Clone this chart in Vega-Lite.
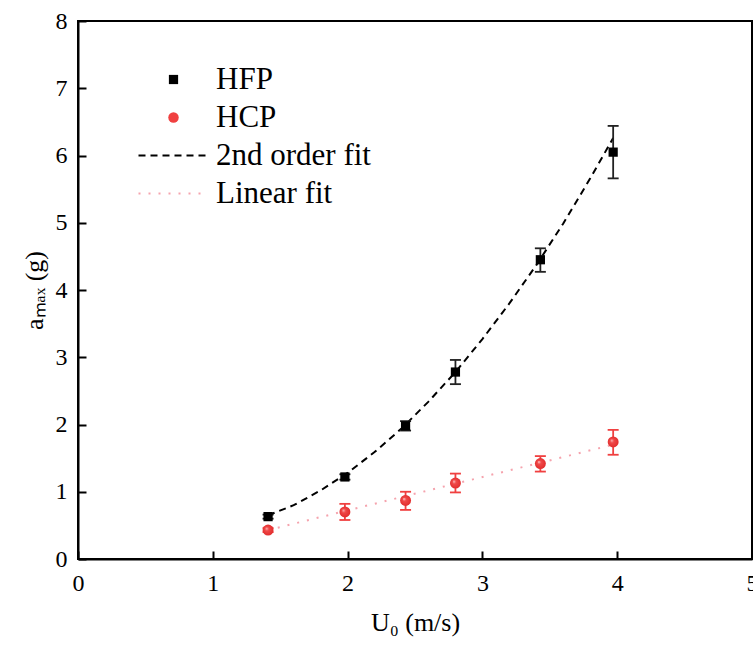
{
  "$schema": "https://vega.github.io/schema/vega-lite/v6.json",
  "width": 674,
  "height": 538,
  "autosize": {"type": "none"},
  "padding": {"left": 78, "top": 21, "right": 1, "bottom": 94},
  "background": "white",
  "config": {
    "font": "Liberation Serif",
    "view": {"stroke": "black", "strokeWidth": 2},
    "axis": {
      "grid": false,
      "labelFont": "Liberation Serif",
      "titleFont": "Liberation Serif",
      "labelFontSize": 24,
      "titleFontSize": 26,
      "titleFontWeight": "normal",
      "labelColor": "black",
      "titleColor": "black",
      "domainColor": "black",
      "domainWidth": 2,
      "tickColor": "black",
      "tickWidth": 2,
      "tickSize": -8
    },
    "legend": {
      "labelFont": "Liberation Serif",
      "labelFontSize": 31,
      "labelColor": "black"
    }
  },
  "datasets": {
    "pts": [
      {"series": "HFP", "u": 1.41, "a": 0.63, "lo": 0.60, "hi": 0.66},
      {"series": "HFP", "u": 1.98, "a": 1.22, "lo": 1.18, "hi": 1.26},
      {"series": "HFP", "u": 2.43, "a": 1.98, "lo": 1.91, "hi": 2.05},
      {"series": "HFP", "u": 2.80, "a": 2.78, "lo": 2.60, "hi": 2.96},
      {"series": "HFP", "u": 3.43, "a": 4.45, "lo": 4.27, "hi": 4.62},
      {"series": "HFP", "u": 3.97, "a": 6.05, "lo": 5.66, "hi": 6.44},
      {"series": "HCP", "u": 1.41, "a": 0.43, "lo": 0.40, "hi": 0.46},
      {"series": "HCP", "u": 1.98, "a": 0.70, "lo": 0.58, "hi": 0.82},
      {"series": "HCP", "u": 2.43, "a": 0.87, "lo": 0.73, "hi": 1.00},
      {"series": "HCP", "u": 2.80, "a": 1.13, "lo": 0.99, "hi": 1.27},
      {"series": "HCP", "u": 3.43, "a": 1.42, "lo": 1.30, "hi": 1.53},
      {"series": "HCP", "u": 3.97, "a": 1.74, "lo": 1.55, "hi": 1.92}
    ],
    "fits": [
      {"series": "2nd order fit", "u": 1.41, "a": 0.65},
      {"series": "2nd order fit", "u": 1.6, "a": 0.80},
      {"series": "2nd order fit", "u": 1.8, "a": 1.02},
      {"series": "2nd order fit", "u": 2.0, "a": 1.28},
      {"series": "2nd order fit", "u": 2.2, "a": 1.59},
      {"series": "2nd order fit", "u": 2.4, "a": 1.94},
      {"series": "2nd order fit", "u": 2.6, "a": 2.34},
      {"series": "2nd order fit", "u": 2.8, "a": 2.78},
      {"series": "2nd order fit", "u": 3.0, "a": 3.27},
      {"series": "2nd order fit", "u": 3.2, "a": 3.80},
      {"series": "2nd order fit", "u": 3.4, "a": 4.37},
      {"series": "2nd order fit", "u": 3.6, "a": 4.99},
      {"series": "2nd order fit", "u": 3.8, "a": 5.66},
      {"series": "2nd order fit", "u": 3.97, "a": 6.26},
      {"series": "Linear fit", "u": 1.41, "a": 0.43},
      {"series": "Linear fit", "u": 3.97, "a": 1.70}
    ]
  },
  "layer": [
    {
      "data": {"name": "fits"},
      "transform": [{"filter": "datum.series == '2nd order fit'"}],
      "mark": {"type": "line", "strokeWidth": 2, "color": "black", "strokeDash": [7, 5]},
      "encoding": {
        "x": {"field": "u", "type": "quantitative"},
        "y": {"field": "a", "type": "quantitative"}
      }
    },
    {
      "data": {"name": "fits"},
      "transform": [{"filter": "datum.series == 'Linear fit'"}],
      "mark": {"type": "line", "strokeWidth": 2, "color": "#f5a3ad", "strokeDash": [2, 8]},
      "encoding": {
        "x": {"field": "u", "type": "quantitative"},
        "y": {"field": "a", "type": "quantitative"}
      }
    },
    {
      "data": {"name": "pts"},
      "mark": {"type": "rule", "strokeWidth": 1.8},
      "encoding": {
        "x": {"field": "u", "type": "quantitative"},
        "y": {"field": "lo", "type": "quantitative"},
        "y2": {"field": "hi"},
        "color": {"condition": {"test": "datum.series == 'HFP'", "value": "#222222"}, "value": "#f04040"}
      }
    },
    {
      "data": {"name": "pts"},
      "mark": {"type": "tick", "orient": "horizontal", "size": 11, "thickness": 1.8, "opacity": 1},
      "encoding": {
        "x": {"field": "u", "type": "quantitative"},
        "y": {"field": "lo", "type": "quantitative"},
        "color": {"condition": {"test": "datum.series == 'HFP'", "value": "#222222"}, "value": "#f04040"}
      }
    },
    {
      "data": {"name": "pts"},
      "mark": {"type": "tick", "orient": "horizontal", "size": 11, "thickness": 1.8, "opacity": 1},
      "encoding": {
        "x": {"field": "u", "type": "quantitative"},
        "y": {"field": "hi", "type": "quantitative"},
        "color": {"condition": {"test": "datum.series == 'HFP'", "value": "#222222"}, "value": "#f04040"}
      }
    },
    {
      "data": {"name": "pts"},
      "transform": [{"filter": "datum.series == 'HCP'"}],
      "mark": {"type": "point", "shape": "circle", "filled": true, "opacity": 1, "size": 120,
        "fill": {"gradient": "radial", "x1": 0.35, "y1": 0.35, "r1": 0, "x2": 0.5, "y2": 0.5, "r2": 0.55,
          "stops": [{"offset": 0, "color": "#ffd0d0"}, {"offset": 0.3, "color": "#f04a4a"}, {"offset": 1, "color": "#e02a2a"}]}},
      "encoding": {
        "x": {"field": "u", "type": "quantitative"},
        "y": {"field": "a", "type": "quantitative"}
      }
    },
    {
      "data": {"name": "pts"},
      "transform": [{"filter": "datum.series == 'HFP'"}],
      "mark": {"type": "point", "shape": "square", "filled": true, "opacity": 1, "size": 85},
      "encoding": {
        "x": {"field": "u", "type": "quantitative",
          "scale": {"domain": [0, 5], "nice": false, "zero": false},
          "axis": {"title": "U₀ (m/s)", "values": [0, 1, 2, 3, 4, 5], "format": "d", "labelPadding": 20, "titlePadding": 14, "labelFlush": false}},
        "y": {"field": "a", "type": "quantitative",
          "scale": {"domain": [0, 8], "nice": false},
          "axis": {"title": "aₘₐₓ (g)", "values": [0, 1, 2, 3, 4, 5, 6, 7, 8], "format": "d", "labelPadding": 19, "titlePadding": 8, "labelFlush": false}},
        "color": {"field": "series", "type": "nominal",
          "scale": {"domain": ["HFP", "HCP", "2nd order fit", "Linear fit"], "range": ["black", "#f04040", "black", "#f5a3ad"]},
          "legend": {
            "title": null,
            "orient": "none",
            "legendX": 80,
            "legendY": 43,
            "symbolSize": 100,
            "symbolOpacity": 1,
            "labelOffset": 27,
            "rowPadding": 6,
            "padding": 0,
            "encode": {
              "symbols": {
                "update": {
                  "shape": {"signal": "datum.value == 'HFP' ? 'square' : datum.value == 'HCP' ? 'circle' : 'stroke'"},
                  "size": {"signal": "datum.value == 'HFP' ? 85 : datum.value == 'HCP' ? 110 : 4900"},
                  "fill": {"signal": "datum.value == 'HFP' ? 'black' : datum.value == 'HCP' ? '#f04040' : 'transparent'"},
                  "stroke": {"signal": "scale('color', datum.value)"},
                  "strokeWidth": {"signal": "datum.value == 'HFP' || datum.value == 'HCP' ? 0 : 2"},
                  "strokeDash": {"signal": "datum.value == '2nd order fit' ? [7, 5] : datum.value == 'Linear fit' ? [2, 8] : [1, 0]"},
                  "opacity": {"value": 1}
                }
              }
            }
          }}
      }
    }
  ]
}
